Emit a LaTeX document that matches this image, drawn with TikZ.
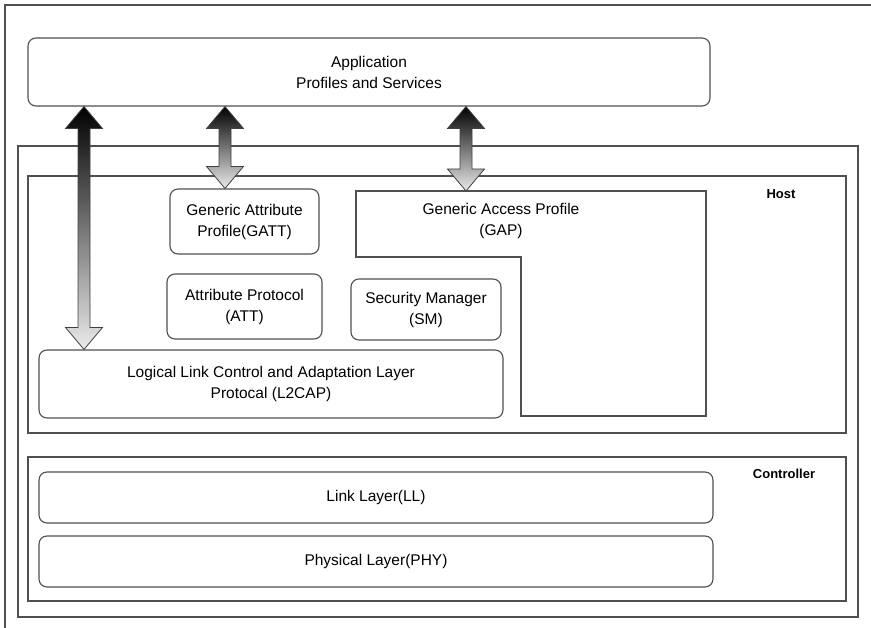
\documentclass[tikz,border=0pt]{standalone}
\usepackage{fontspec}
\setmainfont{Liberation Sans}
\usetikzlibrary{calc,shadings}
\definecolor{linegray}{RGB}{80,80,80}
\newcommand{\bigarrow}[2]{%
  \path[bigarr] let \p1=#1, \p2=#2 in
    (\x1,\y1) -- ++(18.5pt,-22pt) -- ++(-12.5pt,0pt) -- (\x1+6pt,\y2+22pt)
    -- ++(12.5pt,0pt) -- (\x2,\y2) -- ++(-18.5pt,22pt) -- ++(12.5pt,0pt)
    -- (\x1-6pt,\y1-22pt) -- ++(-12.5pt,0pt) -- cycle;}

\begin{document}
\begin{tikzpicture}[
    x=1pt, y=-1pt,
    layer/.style={rectangle, rounded corners=8pt, draw=linegray, line width=1.1pt, fill=white,
                  align=center, inner sep=0pt, font=\fontsize{15.5}{21}\selectfont},
    frame/.style={rectangle, draw=linegray, line width=1.1pt, inner sep=0pt},
    tag/.style={font=\bfseries\fontsize{13}{15}\selectfont},
    bigarr/.style={draw=black!75, line width=0.8pt, top color=black, bottom color=black!8}
]
\useasboundingbox (0,0) rectangle (871,628);
\draw[linegray, line width=1.1pt] (871,5) -- (5,5) -- (5,628);

% application on top
\node[layer, minimum width=682pt, minimum height=68pt] (app) at (369,72) {Application\\Profiles and Services};

% host and controller
\node[frame, minimum width=840pt, minimum height=471pt] (stack) at (438,381.5) {};
\node[frame, minimum width=818pt, minimum height=257pt] (host) at (437,304.5) {};
\node[frame, minimum width=818pt, minimum height=144pt] (ctrl) at (437,529) {};
\node[tag] (hostlbl) at (781,194) {Host};
\node[tag] (ctrllbl) at (784,474) {Controller};

% host side
\draw[linegray, line width=1.1pt] (356,191) -- (706,191) -- (706,416) -- (521,416) -- (521,257) -- (356,257) -- cycle;
\coordinate (gaptop) at (466,191);
\node[align=center, font=\fontsize{15.5}{21}\selectfont] (gap) at (501,221) {Generic Access Profile\\(GAP)};
\node[layer, minimum width=149pt, minimum height=65pt] (gatt) at (244.5,221.5) {Generic Attribute\\Profile(GATT)};
\node[layer, minimum width=155pt, minimum height=65pt] (att) at (244.5,306.5) {Attribute Protocol\\(ATT)};
\node[layer, minimum width=150pt, minimum height=61pt] (sm) at (426,309.5) {Security Manager\\(SM)};
\node[layer, minimum width=464pt, minimum height=68pt] (l2cap) at (271,384) {Logical Link Control and Adaptation Layer\\Protocal (L2CAP)};

% controller side
\node[layer, minimum width=674pt, minimum height=51pt] (ll) at (376,497.5) {Link Layer(LL)};
\node[layer, minimum width=674pt, minimum height=51pt] (phy) at (376,561.5) {Physical Layer(PHY)};

% arrows
\coordinate (col1) at (84,0);
\coordinate (col2) at (225,0);
\bigarrow{(app.south -| col1)}{(l2cap.north -| col1)}
\bigarrow{(app.south -| col2)}{(gatt.north -| col2)}
\bigarrow{(app.south -| gaptop)}{(gaptop)}
\end{tikzpicture}
\end{document}
